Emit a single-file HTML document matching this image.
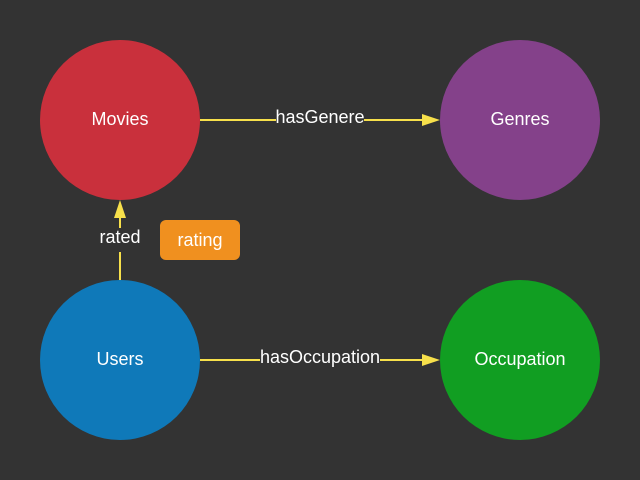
<!DOCTYPE html>
<html><head><style>
html,body{margin:0;padding:0;background:#333333;width:640px;height:480px;overflow:hidden}
</style></head><body>
<svg width="640" height="480" xmlns="http://www.w3.org/2000/svg" style="display:block;font-family:'Liberation Sans',sans-serif">
<rect width="640" height="480" fill="#333333"/>
<circle cx="120" cy="120" r="80" fill="#c9303c"/>
<circle cx="520" cy="120" r="80" fill="#84418a"/>
<circle cx="120" cy="360" r="80" fill="#0f79b9"/>
<circle cx="520" cy="360" r="80" fill="#119e22"/>
<g stroke="#f7e04b" stroke-width="2" fill="none">
<line x1="200" y1="120" x2="424" y2="120"/>
<line x1="200" y1="360" x2="424" y2="360"/>
<line x1="120" y1="280" x2="120" y2="216"/>
</g>
<g fill="#f7e04b">
<polygon points="440,120 422,114 422,126"/>
<polygon points="440,360 422,354 422,366"/>
<polygon points="120,200 114,218 126,218"/>
</g>
<rect x="276" y="106" width="88" height="24" fill="#333333"/>
<rect x="260" y="346" width="120" height="24" fill="#333333"/>
<rect x="96" y="228" width="48" height="24" fill="#333333"/>
<rect x="160" y="220" width="80" height="40" rx="6" fill="#f0901f"/>
<g fill="#ffffff" font-size="18" text-anchor="middle">
<text x="120" y="125">Movies</text>
<text x="520" y="125">Genres</text>
<text x="120" y="365">Users</text>
<text x="520" y="365">Occupation</text>
<text x="320" y="123">hasGenere</text>
<text x="320" y="363">hasOccupation</text>
<text x="120" y="243">rated</text>
<text x="200" y="246">rating</text>
</g>
</svg>
</body></html>
